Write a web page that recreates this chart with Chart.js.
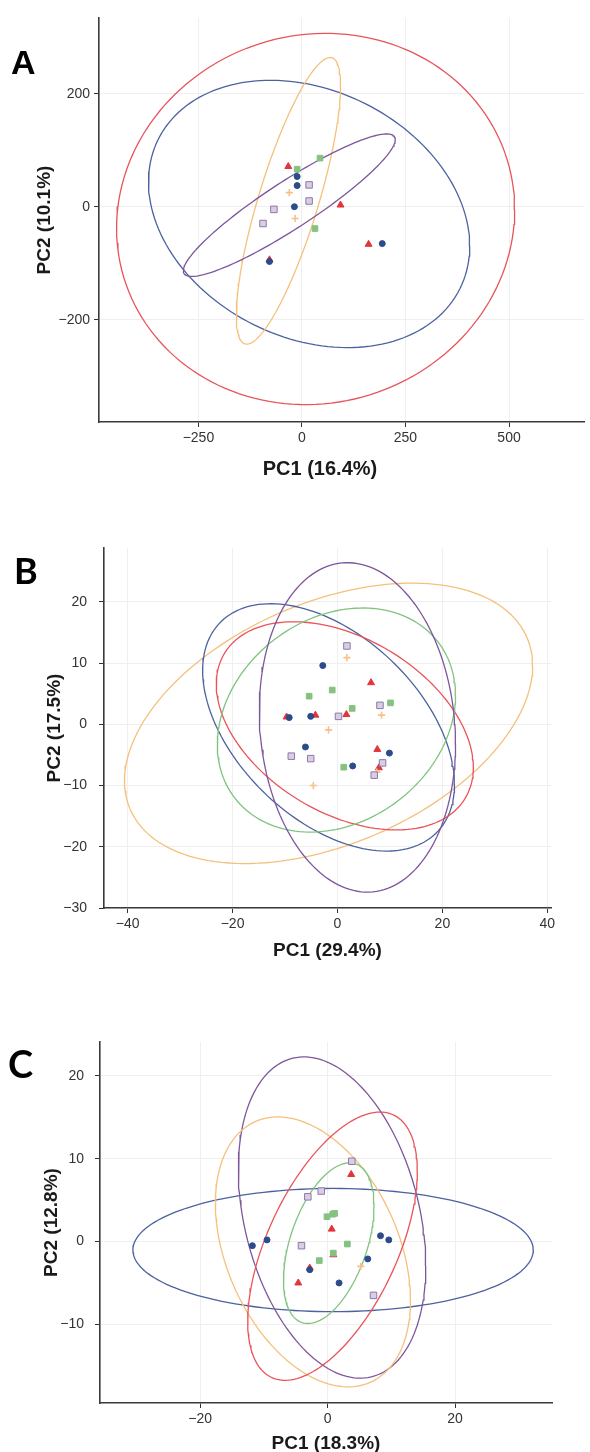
<!DOCTYPE html>
<html>
<head>
<meta charset="utf-8">
<script src="https://cdn.jsdelivr.net/npm/chart.js@4.4.0/dist/chart.umd.min.js"></script>
<style>
  html, body { margin: 0; padding: 0; background: #fff; overflow: hidden; }
  #page { position: relative; width: 590px; height: 1452px; overflow: hidden; }
  .box { position: absolute; left: 0; width: 590px; }
  .tag { position: absolute; line-height: 1; color: #000; font-weight: bold; }
  .xt { position: absolute; width: 200px; text-align: center; font: bold 20px 'Liberation Sans'; line-height: 22px; color: #1a1a1a; }
</style>
</head>
<body>
<div id="page">
  <div class="box" style="top:0;height:490px"><canvas id="chA" width="590" height="490"></canvas></div>
  <div class="box" style="top:490px;height:480px"><canvas id="chB" width="590" height="480"></canvas></div>
  <div class="box" style="top:970px;height:490px"><canvas id="chC" width="590" height="490"></canvas></div>
  <div class="tag" style="left:11px;top:45px;font-family:'Liberation Sans';font-size:34px">A</div>
  <div class="tag" style="left:14px;top:552px;font-family:Lato;font-size:36px">B</div>
  <div class="tag" style="left:8px;top:1044px;font-family:Lato;font-size:38px">C</div>
  <!-- panel A is cropped on the right in the original, so its x title sits left of the axis centre -->
  <div class="xt" style="left:220px;top:457px">PC1 (16.4%)</div>
</div>
<script>
// ---- panel A data ----
const aXTicks = [-250, 0, 250, 500];
const aYTicks = [-200, 0, 200];
const aRed = [[-33, 71.2], [93.2, 3], [160.9, -66.5], [-78.4, -94]];
const aBlue = [[-11.6, 53.4], [-11.6, 37.4], [-18.2, 0], [193.9, -65.3], [-78.4, -97]];
const aGreen = [[-11.6, 66.5], [43.7, 86], [31.4, -38.6]];
const aPurple = [[17.3, 38.6], [17.3, 10.1], [-67.7, -4.7], [-94, -29.7]];
const aOrange = [[-30.5, 24.9], [-16.5, -20.8]];
// ellipses: centre x, centre y, half width, half height, tilt (x of top point rel. to half width)
const aEllRed = [33, -21.7, 480.6, 328.5, 0.05];
const aEllBlue = [17.3, -12.8, 387.8, 236.5, -0.24];
const aEllOrange = [-32.6, 10.4, 125.8, 253.7, 0.8];
const aEllPurple = [-30.5, 2.7, 255.8, 126.1, 0.92];

// ---- panel B data ----
const bXTicks = [-40, -20, 0, 20, 40];
const bYTicks = [-30, -20, -10, 0, 10, 20];
const bRed = [[6.4, 6.8], [-9.7, 1.2], [-4.2, 1.5], [1.7, 1.6], [7.6, -4.1], [7.9, -7.1]];
const bBlue = [[-2.8, 9.6], [-9.2, 1.1], [-5.1, 1.3], [-6.1, -3.7], [2.9, -6.8], [9.9, -4.7]];
const bGreen = [[-5.4, 4.6], [-1, 5.6], [10.1, 3.5], [2.8, 2.6], [1.2, -7]];
const bPurple = [[1.8, 12.8], [8.1, 3.1], [0.2, 1.3], [-8.8, -5.2], [-5.1, -5.6], [8.6, -6.3], [7, -8.3]];
const bOrange = [[1.8, 10.9], [8.4, 1.5], [-1.7, -0.9], [-4.6, -10], [7.5, -7.8]];
const bEllOrange = [-1.7, 0.16, 38.9, 22.9, 0.41];
const bEllPurple = [3.8, -0.5, 18.7, 26.9, -0.1];
const bEllBlue = [-1.7, -0.5, 24, 20.2, -0.46];
const bEllRed = [1.4, -0.25, 24.5, 17, -0.4];
const bEllGreen = [-0.2, 0.7, 22.7, 18.3, 0.22];

// ---- panel C data ----
const cXTicks = [-20, 0, 20];
const cYTicks = [-10, 0, 10, 20];
const cRed = [[3.7, 8.1], [0.65, 1.5], [-2.8, -3.2], [-4.6, -5], [0.9, -1.6]];
const cBlue = [[-11.8, -0.5], [-9.5, 0.2], [8.3, 0.7], [9.6, 0.2], [6.3, -2.1], [1.8, -5], [-2.8, -3.4]];
const cGreen = [[-0.1, 3], [0.8, 3.3], [1.1, 3.4], [3.1, -0.3], [0.9, -1.4], [-1.3, -2.3]];
const cPurple = [[3.8, 9.7], [-1, 6.1], [-3.1, 5.4], [-4.1, -0.5], [7.2, -6.5]];
const cOrange = [[5.2, -3]];
const cEllBlue = [0.86, -1.03, 31.4, 7.44, 0];
const cEllPurple = [0.7, 2.9, 14.7, 19.4, -0.3];
const cEllOrange = [-2.3, -1.25, 15.3, 16.3, -0.36];
const cEllRed = [0.77, -0.56, 13.3, 16.2, 0.56];
const cEllGreen = [0.18, -0.2, 7.1, 9.7, 0.46];

const STY = {
  red:    { shape: 'triangle', r: 4,   fill: '#e2353b', edge: '#e2353b', ell: '#e8545a' },
  blue:   { shape: 'circle',   r: 3,   fill: '#2c4b8a', edge: '#2c4b8a', ell: '#4c629f' },
  green:  { shape: 'rect',     r: 4,   fill: '#85c282', edge: '#85c282', ell: '#7fc47f' },
  purple: { shape: 'rect',     r: 4.6, fill: '#dacde6', edge: '#8c7aa6', ell: '#7d569c' },
  orange: { shape: 'cross',    r: 3.6, fill: '#f6c08a', edge: '#f6c08a', ell: '#f5c07c' }
};

function ellipse(p) {
  const [cx, cy, rx, ry, s] = p;
  const ph = Math.asin(s);
  const out = [];
  for (let k = 0; k <= 160; k++) {
    const t = 2 * Math.PI * k / 160;
    out.push({ x: cx + rx * Math.cos(t), y: cy + ry * Math.sin(t + ph) });
  }
  return out;
}

function fmt(v) {
  return v < 0 ? '\u2212' + Math.abs(v) : String(v);
}

function panel(id, o) {
  const ds = [];
  o.pts.forEach(([g, arr]) => {
    ds.push({
      data: arr.map(([x, y]) => ({ x, y })),
      pointStyle: STY[g].shape,
      pointRadius: STY[g].r,
      backgroundColor: STY[g].fill,
      borderColor: STY[g].edge,
      borderWidth: g === 'orange' ? 1.6 : 1,
      showLine: false
    });
  });
  o.ells.forEach(([g, p]) => {
    ds.push({
      data: ellipse(p),
      showLine: true,
      pointRadius: 0,
      borderColor: STY[g].ell,
      borderWidth: 1.3,
      fill: false,
      tension: 0
    });
  });
  const tickFont = { family: 'Liberation Sans', size: 14 };
  const titleFont = { family: 'Liberation Sans', size: 19, weight: 'bold' };
  new Chart(document.getElementById(id), {
    type: 'scatter',
    data: { datasets: ds },
    options: {
      responsive: false,
      animation: false,
      devicePixelRatio: 1,
      layout: { padding: { top: o.padTop, right: o.padRight, left: 0, bottom: 0 } },
      plugins: { legend: { display: false }, tooltip: { enabled: false } },
      scales: {
        x: {
          type: 'linear', min: o.xMin, max: o.xMax,
          afterBuildTicks: s => { s.ticks = o.xTicks.map(v => ({ value: v })); },
          afterFit: s => { s.height = o.xH; },
          grid: { color: '#efefef', tickColor: '#333', tickLength: 5 },
          border: { color: '#3a3a3a', width: 1.6 },
          ticks: { font: tickFont, color: '#333', padding: 3, maxRotation: 0, callback: v => fmt(v) },
          title: { display: !!o.xTitle, text: o.xTitle || '', font: titleFont, color: '#1a1a1a', padding: { top: 0, bottom: o.xTitlePad } }
        },
        y: {
          type: 'linear', min: o.yMin, max: o.yMax,
          afterBuildTicks: s => { s.ticks = o.yTicks.map(v => ({ value: v })); },
          afterFit: s => { s.width = o.yW; },
          grid: { color: '#efefef', tickColor: '#333', tickLength: 5 },
          border: { color: '#3a3a3a', width: 1.6 },
          ticks: { font: tickFont, color: '#333', padding: o.yTickPad, callback: v => fmt(v) },
          title: { display: true, text: o.yTitle, font: titleFont, color: '#1a1a1a', padding: { top: o.yTitlePad, bottom: 0 } }
        }
      }
    }
  });
}

panel('chA', {
  pts: [['purple', aPurple], ['orange', aOrange], ['green', aGreen], ['blue', aBlue], ['red', aRed]],
  ells: [['purple', aEllPurple], ['orange', aEllOrange], ['blue', aEllBlue], ['red', aEllRed]],
  xTicks: aXTicks, yTicks: aYTicks,
  xMin: -490, xMax: 682, yMin: -381, yMax: 334,
  padTop: 18, padRight: 0, xH: 68, yW: 99,
  xTitle: null, yTitle: 'PC2 (10.1%)',
  xTitlePad: 10, yTitlePad: 33, yTickPad: 4
});

panel('chB', {
  pts: [['purple', bPurple], ['orange', bOrange], ['green', bGreen], ['blue', bBlue], ['red', bRed]],
  ells: [['purple', bEllPurple], ['green', bEllGreen], ['red', bEllRed], ['blue', bEllBlue], ['orange', bEllOrange]],
  xTicks: bXTicks, yTicks: bYTicks,
  xMin: -44.5, xMax: 40.7, yMin: -30, yMax: 28.8,
  padTop: 58, padRight: 39, xH: 62, yW: 104,
  xTitle: 'PC1 (29.4%)', yTitle: 'PC2 (17.5%)',
  xTitlePad: 8, yTitlePad: 43, yTickPad: 12
});

panel('chC', {
  pts: [['purple', cPurple], ['orange', cOrange], ['green', cGreen], ['blue', cBlue], ['red', cRed]],
  ells: [['green', cEllGreen], ['red', cEllRed], ['orange', cEllOrange], ['purple', cEllPurple], ['blue', cEllBlue]],
  xTicks: cXTicks, yTicks: cYTicks,
  xMin: -35.7, xMax: 35.2, yMin: -19.5, yMax: 24.1,
  padTop: 72, padRight: 38, xH: 57, yW: 100,
  xTitle: 'PC1 (18.3%)', yTitle: 'PC2 (12.8%)',
  xTitlePad: 5, yTitlePad: 40, yTickPad: 11
});
</script>
</body>
</html>
